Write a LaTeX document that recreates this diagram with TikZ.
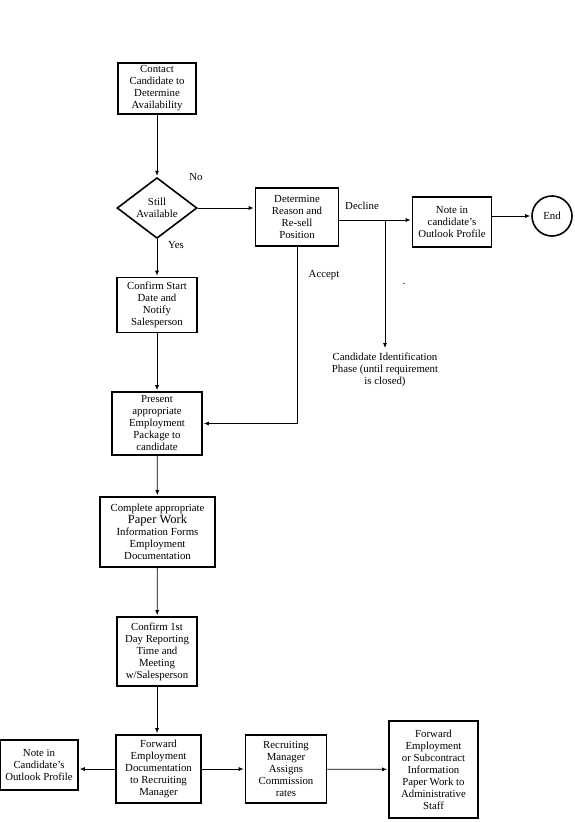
\documentclass[tikz,border=0pt]{standalone}
\usepackage{fontspec}
\setmainfont{Liberation Serif}
\usetikzlibrary{arrows.meta,shapes.geometric,positioning}

\begin{document}
\begin{tikzpicture}[x=1pt,y=-1pt,>={Latex[length=5pt,width=4pt]},
  font=\fontsize{10.8}{12}\selectfont,
  procbox/.style={draw,line width=1.6pt,align=center,inner sep=1pt},
  decision/.style={draw,diamond,line width=1.6pt,align=center,inner sep=0pt,
    minimum width=80pt,minimum height=60pt},
  conn/.style={->,line width=0.8pt,shorten >=1pt}]
  \useasboundingbox (0,0) rectangle (574,822);
  % main column
  \node[procbox,minimum width=78pt,minimum height=51pt] (contact) at (157,88.5)
    {Contact\\Candidate to\\Determine\\Availability};
  \node[decision] (avail) at (157,208) {Still\\Available};
  \node[procbox,minimum width=80pt,minimum height=55pt] (confirmstart) at (157,305)
    {Confirm Start\\Date and\\Notify\\Salesperson};
  \node[procbox,minimum width=90pt,minimum height=63pt] (present) at (157,423.5)
    {Present\\appropriate\\Employment\\Package to\\candidate};
  \node[procbox,minimum width=115pt,minimum height=70pt] (paperwork) at (157.5,532)
    {Complete appropriate\\{\fontsize{12.5}{13}\selectfont Paper Work}\\Information Forms\\Employment\\Documentation};
  \node[procbox,minimum width=80pt,minimum height=69pt] (confirmday) at (157,651.5)
    {Confirm 1st\\Day Reporting\\Time and\\Meeting\\w/Salesperson};
  \node[procbox,minimum width=85pt,minimum height=68pt] (fwddoc) at (158.5,769)
    {Forward\\Employment\\Documentation\\to Recruiting\\Manager};
  % right branch at the top
  \node[procbox,minimum width=83pt,minimum height=58pt] (reason) at (297,217)
    {Determine\\Reason and\\Re-sell\\Position};
  \node[procbox,minimum width=79pt,minimum height=50pt] (notecand) at (452,222)
    {Note in\\candidate's\\Outlook Profile};
  \node[draw,circle,line width=1.6pt,minimum size=40pt,inner sep=0pt] (endc) at (552,216) {End};
  \node[align=center,anchor=north] (candphase) at (385,349)
    {Candidate Identification\\Phase (until requirement\\is closed)};
  \node (dot) at (404,284) {.};
  % bottom row
  \node[procbox,minimum width=78pt,minimum height=50pt] (noteleft) at (39,765)
    {Note in\\Candidate's\\Outlook Profile};
  \node[procbox,minimum width=81pt,minimum height=68pt] (recruit) at (286,769)
    {Recruiting\\Manager\\Assigns\\Commission\\rates};
  \node[procbox,minimum width=89pt,minimum height=97pt] (fwdadmin) at (433.5,769.5)
    {Forward\\Employment\\or Subcontract\\Information\\Paper Work to\\Administrative\\Staff};
  % labels
  \node (no) at (196,177) {No};
  \node (yes) at (176,245) {Yes};
  \node (decline) at (362,206) {Decline};
  \node (accept) at (324,275) {Accept};
  % connectors
  \draw[conn] (contact) -- (avail);
  \draw[conn] (avail.east) -- (reason.west |- avail.east);
  \draw[conn] (avail) -- (confirmstart);
  \draw[conn] (reason.east |- 0,220) -- (notecand.west |- 0,220);
  \coordinate (br) at (385,220);
  \draw[conn] (br) -- (candphase.north);
  \draw[conn] (notecand.east |- endc) -- (endc);
  \draw[conn] (reason.south) |- (present.east);
  \draw[conn] (confirmstart) -- (present);
  \draw[conn] (present) -- (paperwork);
  \draw[conn] (paperwork) -- (confirmday);
  \draw[conn] (confirmday.south) -- (confirmday.south |- fwddoc.north);
  \draw[conn] (fwddoc.west) -- (noteleft.east |- fwddoc.west);
  \draw[conn] (fwddoc) -- (recruit);
  \draw[conn] (recruit) -- (fwdadmin);
\end{tikzpicture}
\end{document}
